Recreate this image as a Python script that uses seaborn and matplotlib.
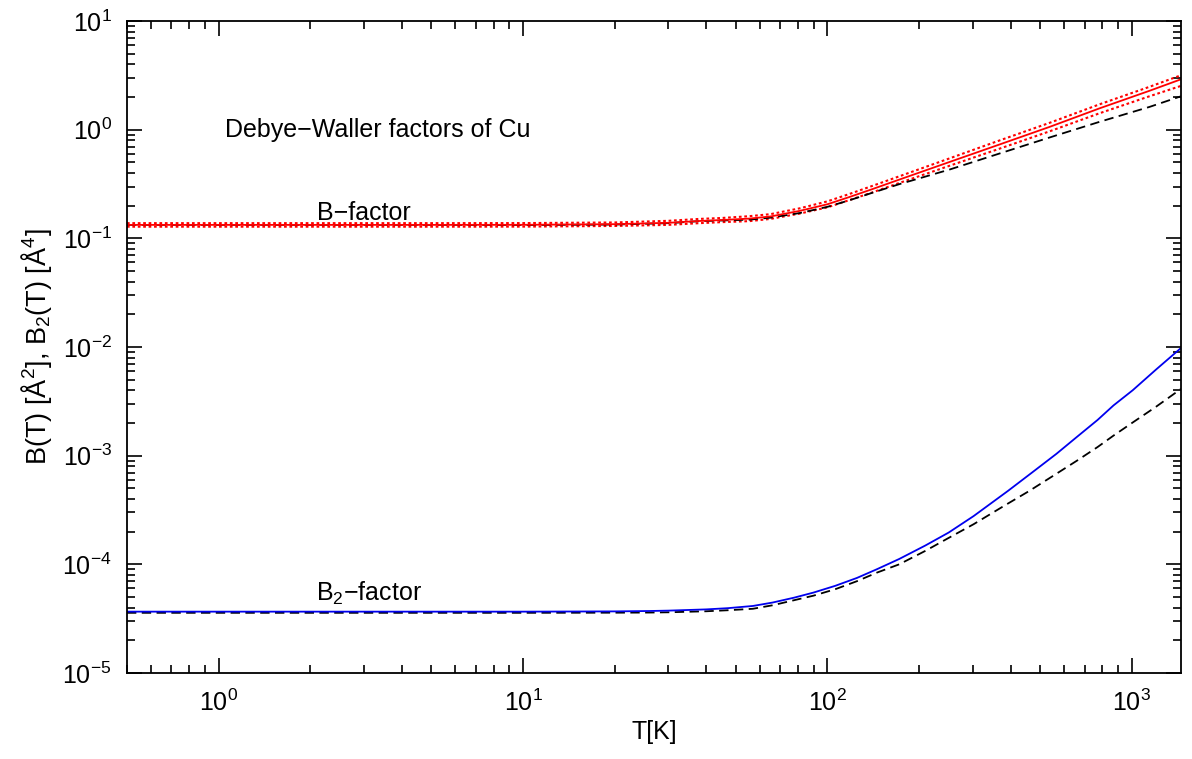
import matplotlib
matplotlib.use("Agg")
import matplotlib.pyplot as plt
import matplotlib.ticker as mticker
import seaborn as sns
import pandas as pd
import numpy as np

# ---- data ----
T_B = [0.5, 1, 2, 5, 10, 20, 30, 38.0, 45, 55.4, 65, 81.1, 100, 118, 140, 172, 252, 367, 536, 782, 1142, 1450]
B_red = [0.133, 0.133, 0.133, 0.133, 0.1332, 0.135, 0.139, 0.1445, 0.1475, 0.152, 0.159, 0.179, 0.206,
         0.240, 0.283, 0.347, 0.505, 0.730, 1.06, 1.57, 2.28, 2.91]
B_red_up = [0.138, 0.138, 0.138, 0.138, 0.1382, 0.140, 0.145, 0.151, 0.154, 0.160, 0.167, 0.189, 0.219,
            0.256, 0.303, 0.372, 0.545, 0.795, 1.155, 1.71, 2.48, 3.17]
B_red_lo = [0.128, 0.128, 0.128, 0.128, 0.1282, 0.130, 0.133, 0.138, 0.141, 0.144, 0.151, 0.169, 0.193,
            0.225, 0.264, 0.323, 0.466, 0.668, 0.965, 1.415, 2.03, 2.53]
B_black = [0.133, 0.133, 0.133, 0.133, 0.1325, 0.134, 0.138, 0.1440, 0.146, 0.1486, 0.155, 0.171, 0.195,
           0.224, 0.262, 0.315, 0.430, 0.603, 0.847, 1.18, 1.62, 2.03]

T_B2 = [0.5, 1, 2, 5, 10, 20, 26, 30, 40, 47, 56.9, 66, 77.8, 90, 106, 125, 145.5, 172, 209.6, 250,
        302, 392, 470, 565, 660, 771, 870, 1006, 1200, 1450]
B2_blue = [3.67e-5, 3.67e-5, 3.67e-5, 3.67e-5, 3.67e-5, 3.69e-5, 3.72e-5, 3.75e-5, 3.85e-5, 3.95e-5,
           4.14e-5, 4.45e-5, 4.94e-5, 5.5e-5, 6.34e-5, 7.5e-5, 9.03e-5, 1.12e-4, 1.49e-4, 1.96e-4,
           2.78e-4, 4.75e-4, 7.0e-4, 1.04e-3, 1.49e-3, 2.13e-3, 2.9e-3, 4.0e-3, 6.2e-3, 9.8e-3]
T_B2d = [0.5, 1, 2, 5, 10, 20, 26, 30, 40, 47, 56.9, 66, 77.8, 90, 106, 125, 145.5, 172, 209.6, 250,
         302, 380, 458, 550, 660, 771, 870, 1006, 1200, 1450]
B2_black = [3.58e-5, 3.58e-5, 3.58e-5, 3.58e-5, 3.58e-5, 3.59e-5, 3.60e-5, 3.62e-5, 3.70e-5, 3.78e-5,
            3.90e-5, 4.2e-5, 4.68e-5, 5.15e-5, 5.9e-5, 7.0e-5, 8.4e-5, 1.0e-4, 1.33e-4, 1.75e-4,
            2.34e-4, 3.45e-4, 4.7e-4, 6.5e-4, 9.0e-4, 1.2e-3, 1.53e-3, 2.02e-3, 2.82e-3, 4.12e-3]

xticks = [1, 10, 100, 1000]
yticks = [1e-5, 1e-4, 1e-3, 1e-2, 1e-1, 1, 10]

sns.set_theme(style="ticks")
plt.rcParams["font.family"] = ["Liberation Sans", "DejaVu Sans"]
plt.rcParams["mathtext.fontset"] = "custom"
plt.rcParams["mathtext.rm"] = "Liberation Sans"
plt.rcParams["mathtext.it"] = "Liberation Sans:italic"
plt.rcParams["mathtext.bf"] = "Liberation Sans:bold"
plt.rcParams["text.color"] = "black"
plt.rcParams["axes.labelcolor"] = "black"
plt.rcParams["xtick.color"] = "black"
plt.rcParams["ytick.color"] = "black"

fig = plt.figure(figsize=(11.92, 7.59), dpi=100)
ax = fig.add_axes([0.1065, 0.1133, 0.8843, 0.8590])

df_red = pd.DataFrame({"T": T_B, "B": B_red})
df_up = pd.DataFrame({"T": T_B, "B": B_red_up})
df_lo = pd.DataFrame({"T": T_B, "B": B_red_lo})
df_bk = pd.DataFrame({"T": T_B, "B": B_black})
df_blue = pd.DataFrame({"T": T_B2, "B": B2_blue})
df_bk2 = pd.DataFrame({"T": T_B2d, "B": B2_black})

dot = (0, (1.3, 1.3))
dash = (0, (5.2, 3.0))
sns.lineplot(data=df_up, x="T", y="B", ax=ax, color="#ff0000", lw=1.5, linestyle=dot, estimator=None)
sns.lineplot(data=df_lo, x="T", y="B", ax=ax, color="#ff0000", lw=1.5, linestyle=dot, estimator=None)
sns.lineplot(data=df_bk, x="T", y="B", ax=ax, color="black", lw=1.3, linestyle=dash, estimator=None)
sns.lineplot(data=df_red, x="T", y="B", ax=ax, color="#ff0000", lw=1.3, estimator=None)
sns.lineplot(data=df_bk2, x="T", y="B", ax=ax, color="black", lw=1.3, linestyle=dash, estimator=None)
sns.lineplot(data=df_blue, x="T", y="B", ax=ax, color="#0000ee", lw=1.3, estimator=None)

ax.set_xscale("log")
ax.set_yscale("log")
ax.set_xlim(0.5, 1450)
ax.set_ylim(1e-5, 10)
ax.xaxis.set_major_locator(mticker.FixedLocator(xticks))
ax.yaxis.set_major_locator(mticker.FixedLocator(yticks))
ax.xaxis.set_major_formatter(mticker.LogFormatterSciNotation())
ax.yaxis.set_major_formatter(mticker.LogFormatterSciNotation())
ax.xaxis.set_minor_locator(mticker.LogLocator(base=10, subs=np.arange(2, 10), numticks=20))
ax.yaxis.set_minor_locator(mticker.LogLocator(base=10, subs=np.arange(2, 10), numticks=20))
ax.xaxis.set_minor_formatter(mticker.NullFormatter())
ax.yaxis.set_minor_formatter(mticker.NullFormatter())

ax.tick_params(which="both", direction="in", top=True, right=True, color="black", width=1.2)
ax.tick_params(which="major", length=11, labelsize=18)
ax.tick_params(axis="x", which="major", pad=12)
ax.tick_params(axis="y", which="major", pad=11)
ax.tick_params(which="minor", length=5.5)
for s in ax.spines.values():
    s.set_color("black")
    s.set_linewidth(1.3)

ax.set_xlabel("T[K]", fontsize=18, labelpad=3)
ax.set_ylabel(r"B(T) [Å$^{2}$], B$_{2}$(T) [Å$^{4}$]", fontsize=19.5, labelpad=6)

ax.text(1.05, 1.0, "Debye\u2212Waller factors of Cu", fontsize=18, ha="left", va="center")
ax.text(3.0, 0.172, "B\u2212factor", fontsize=18, ha="center", va="center")
ax.text(3.13, 5.35e-5, r"B$_{2}$" + "\u2212factor", fontsize=18, ha="center", va="center")

fig.savefig("out.png", dpi=100)
